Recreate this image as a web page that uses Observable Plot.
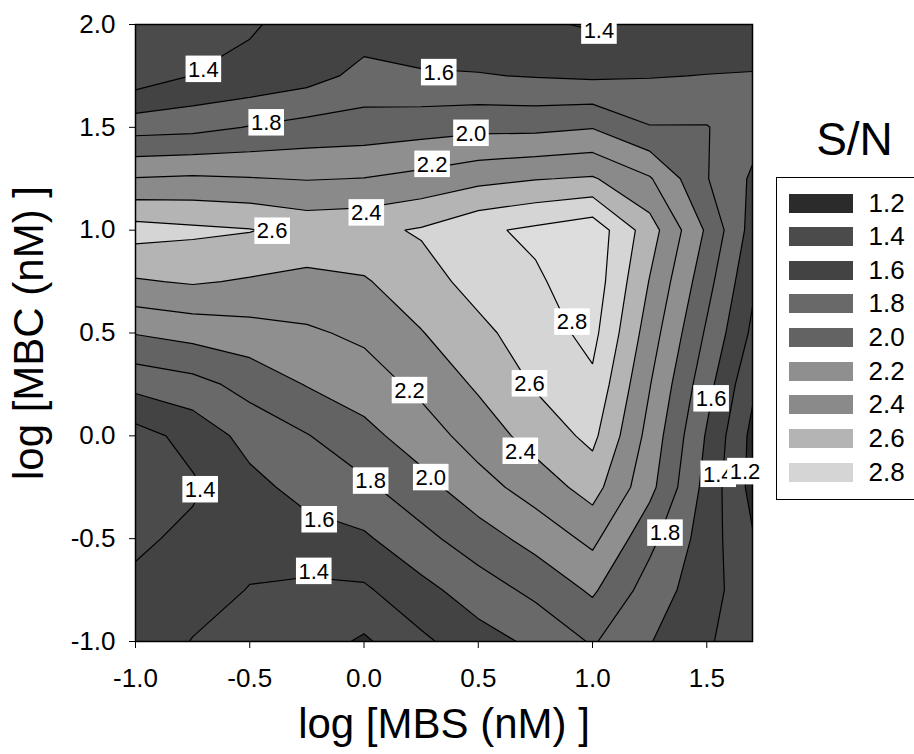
<!DOCTYPE html>
<html>
<head>
<meta charset="utf-8">
<script src="https://cdn.jsdelivr.net/npm/d3@7"></script>
<script src="https://cdn.jsdelivr.net/npm/@observablehq/plot@0.6"></script>
<style>
  body { margin: 0; background: #fff; font-family: "Liberation Sans", Arial, sans-serif; }
  #wrap { position: relative; width: 914px; height: 754px; overflow: hidden; background: #fff; }
  #wrap svg { position: absolute; left: 0; top: 0; }
  #snTitle { position: absolute; left: 780px; width: 149px; top: 116px; text-align: center;
             font-size: 46px; line-height: 46px; color: #000; }
  #legendBox { position: absolute; left: 776px; top: 177px; width: 170px; height: 323px;
               border: 1.5px solid #000; box-sizing: border-box; background: #fff; }
  .lg-row { position: absolute; left: 11.5px; height: 19px; width: 150px; }
  .lg-sw { position: absolute; left: 0; top: 0; width: 64px; height: 19px; }
  .lg-tx { position: absolute; left: 80px; top: 0; line-height: 19px; font-size: 26px; color: #000; }
</style>
</head>
<body>
<div id="wrap"></div>
<script>
// ---- grid nodes of the measured S/N surface ----
const xNodes = [-1.0, -0.75, -0.5, -0.25, 0.0, 0.25, 0.5, 0.75, 1.0, 1.25, 1.5, 1.75];
const yNodes = [2.0, 1.75, 1.5, 1.25, 1.0, 0.75, 0.5, 0.25, 0.0, -0.25, -0.5, -0.75, -1.0];

// S/N values, one row per log[MBC] node (top to bottom), columns follow xNodes
const snY200  = [1.25, 1.30, 1.38, 1.47, 1.50, 1.48, 1.47, 1.43, 1.38, 1.45, 1.45, 1.51];
const snY175  = [1.28, 1.405, 1.45, 1.52, 1.66, 1.62, 1.61, 1.59, 1.57, 1.59, 1.605, 1.61];
const snY150  = [1.72, 1.74, 1.81, 1.87, 1.89, 1.92, 1.95, 1.95, 1.99, 1.81, 1.81, 1.62];
const snY125  = [2.21, 2.23, 2.21, 2.19, 2.205, 2.26, 2.34, 2.39, 2.42, 2.22, 1.81, 1.51];
const snY100  = [2.68, 2.64, 2.61, 2.53, 2.55, 2.62, 2.76, 2.84, 2.93, 2.49, 1.97, 1.41];
const snY075  = [2.38, 2.42, 2.38, 2.35, 2.38, 2.52, 2.67, 2.77, 2.92, 2.39, 1.87, 1.33];
const snY050  = [2.01, 2.07, 2.12, 2.17, 2.24, 2.39, 2.55, 2.70, 2.86, 2.30, 1.77, 1.26];
const snY025  = [1.66, 1.73, 1.87, 2.01, 2.10, 2.25, 2.43, 2.62, 2.76, 2.21, 1.67, 1.13];
const snY000  = [1.32, 1.47, 1.67, 1.79, 1.94, 2.10, 2.29, 2.48, 2.65, 2.13, 1.58, 1.04];
const snYm025 = [1.28, 1.37, 1.54, 1.67, 1.76, 1.93, 2.12, 2.29, 2.48, 2.06, 1.53, 1.04];
const snYm050 = [1.36, 1.45, 1.44, 1.52, 1.57, 1.74, 1.91, 2.07, 2.25, 1.855, 1.50, 1.14];
const snYm075 = [1.45, 1.45, 1.395, 1.36, 1.37, 1.54, 1.70, 1.85, 2.03, 1.71, 1.48, 1.22];
const snYm100 = [1.48, 1.395, 1.33, 1.30, 1.17, 1.36, 1.52, 1.64, 1.82, 1.61, 1.42, 1.27];

// contour levels / legend entries
const levels = [1.2, 1.4, 1.6, 1.8, 2.0, 2.2, 2.4, 2.6, 2.8];
const legendLabels = ["1.2", "1.4", "1.6", "1.8", "2.0", "2.2", "2.4", "2.6", "2.8"];

// axis ticks
const xTicks = [-1.0, -0.5, 0.0, 0.5, 1.0, 1.5];
const yTicks = [-1.0, -0.5, 0.0, 0.5, 1.0, 1.5, 2.0];
const xTitle = "log [MBS (nM) ]";
const yTitle = "log [MBC (nM) ]";
const legendTitle = "S/N";

// contour labels (placed on the lines, data units)
const labelText = ["1.4", "1.6", "1.4", "1.8", "2.0", "2.2", "2.4", "2.6", "2.8", "2.6", "2.2",
                   "2.4", "1.6", "1.4", "1.8", "2.0", "1.6", "1.4", "1.8", "1.4", "1.2"];
const labelX = [-0.703, 0.327, 1.028, -0.428, 0.468, 0.298, 0.010, -0.402, 0.910, 0.724, 0.199,
                0.684, 1.519, -0.717, 0.029, 0.292, -0.196, -0.220, 1.317, 1.550, 1.667];
const labelY = [1.781, 1.765, 1.967, 1.521, 1.470, 1.319, 1.083, 0.994, 0.552, 0.252, 0.219,
                -0.076, 0.179, -0.263, -0.221, -0.204, -0.409, -0.660, -0.474, -0.188, -0.175];

// ---- styles ----
// band colours: below 1.2, then each band up to the next level, last = above 2.8
const bandColors = ["#2b2b2b", "#4b4b4b", "#434343", "#696969", "#636363",
                    "#8f8f8f", "#8a8a8a", "#b4b4b4", "#d5d5d5", "#dddddd"];

// ---- build ----
const snRows = [snY200, snY175, snY150, snY125, snY100, snY075, snY050, snY025,
                snY000, snYm025, snYm050, snYm075, snYm100];
const snGrid = snRows.flat();
const stepX = xNodes[1] - xNodes[0];
const stepY = yNodes[0] - yNodes[1];
const labels = labelText.map((t, i) => ({x: labelX[i], y: labelY[i], text: t}));
const fmt = d => d.toFixed(1);

const plot = Plot.plot({
  width: 914,
  height: 754,
  marginLeft: 135,
  marginRight: 162,
  marginTop: 24,
  marginBottom: 113,
  style: {fontFamily: "'Liberation Sans', Arial, sans-serif", color: "black", background: "white", overflow: "visible"},
  x: {domain: [-1, 1.7]},
  y: {domain: [-1, 2]},
  color: {type: "threshold", domain: levels.map(v => +(v - 0.1).toFixed(2)), range: bandColors},
  marks: [
    Plot.contour(snGrid, {
      width: xNodes.length,
      height: yNodes.length,
      x1: xNodes[0] - stepX / 2,
      x2: xNodes[xNodes.length - 1] + stepX / 2,
      y1: yNodes[0] + stepY / 2,
      y2: yNodes[yNodes.length - 1] - stepY / 2,
      fill: Plot.identity,
      thresholds: [1.0, ...levels],
      stroke: "black",
      strokeWidth: 1.2,
      clip: true
    }),
    Plot.frame({stroke: "black", strokeWidth: 1.5}),
    Plot.axisX({ticks: xTicks, tickFormat: fmt, fontSize: 26, tickSize: 7, tickPadding: 20, label: null}),
    Plot.axisY({ticks: yTicks, tickFormat: fmt, fontSize: 26, tickSize: 6, tickPadding: 14, label: null}),
    Plot.text(labels, {x: "x", y: "y", text: "text", fontSize: 22, fill: "black",
                       textAnchor: "middle", lineAnchor: "middle", ariaDescription: "contour-labels"}),
    Plot.text([xTitle], {text: d => d, frameAnchor: "bottom", dy: 83, fontSize: 42,
                         textAnchor: "middle", lineAnchor: "middle", fill: "black"}),
    Plot.text([yTitle], {text: d => d, frameAnchor: "left", rotate: -90, dx: -106, fontSize: 42,
                         textAnchor: "middle", lineAnchor: "middle", fill: "black"})
  ]
});

const wrap = document.getElementById("wrap");
wrap.appendChild(plot);

// white boxes behind the contour labels
let labelGroup = plot.querySelector('g[aria-description="contour-labels"]');
if (!labelGroup) labelGroup = plot.querySelector('g[font-size="22"]');
if (labelGroup) {
  Array.from(labelGroup.querySelectorAll("text")).forEach(t => {
    const b = t.getBBox();
    const r = document.createElementNS("http://www.w3.org/2000/svg", "rect");
    r.setAttribute("x", b.x - 2.5);
    r.setAttribute("y", b.y - 1);
    r.setAttribute("width", b.width + 5);
    r.setAttribute("height", b.height + 1.5);
    r.setAttribute("fill", "white");
    r.setAttribute("stroke", "none");
    const tr = t.getAttribute("transform");
    if (tr) r.setAttribute("transform", tr);
    t.parentNode.insertBefore(r, t);
  });
}

// legend
const title = document.createElement("div");
title.id = "snTitle";
title.textContent = legendTitle;
wrap.appendChild(title);

const box = document.createElement("div");
box.id = "legendBox";
legendLabels.forEach((lab, i) => {
  const row = document.createElement("div");
  row.className = "lg-row";
  row.style.top = (15.5 + i * 33.66) + "px";
  const sw = document.createElement("div");
  sw.className = "lg-sw";
  sw.style.background = bandColors[i];
  const tx = document.createElement("div");
  tx.className = "lg-tx";
  tx.textContent = lab;
  row.appendChild(sw);
  row.appendChild(tx);
  box.appendChild(row);
});
wrap.appendChild(box);
</script>
</body>
</html>
